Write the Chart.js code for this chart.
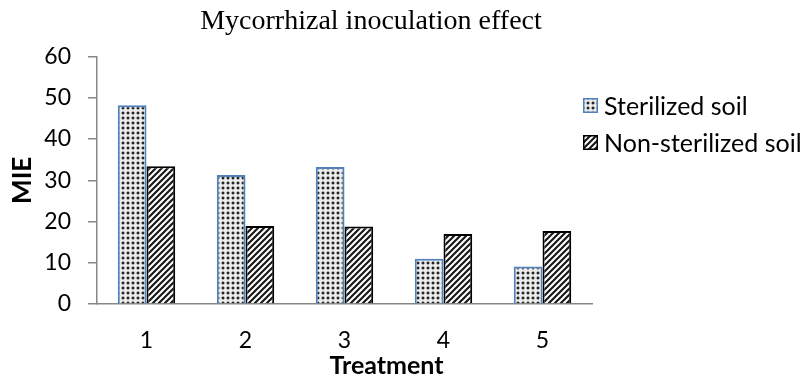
<!DOCTYPE html>
<html>
<head>
<meta charset="utf-8">
<script src="https://cdn.jsdelivr.net/npm/chart.js@4/dist/chart.umd.min.js"></script>
<style>
html,body{margin:0;padding:0;background:#fff;}
#wrap{width:802px;height:378px;position:relative;}
</style>
</head>
<body>
<div id="wrap"><canvas id="c" width="802" height="378"></canvas></div>
<script>
const chartTitle = 'Mycorrhizal inoculation effect';
const categories = ['1', '2', '3', '4', '5'];
const seriesNames = ['Sterilized soil', 'Non-sterilized soil'];
const sterilized = [48.2, 31.3, 33.2, 11.0, 9.1];
const nonSterilized = [33.4, 18.9, 18.8, 17.0, 17.7];
const yTicks = [0, 10, 20, 30, 40, 50, 60];
const xAxisTitle = 'Treatment';
const yAxisTitle = 'MIE';

const SANS = 'Lato, "Open Sans", sans-serif';

function dotPattern() {
  const s = 5;
  const c = document.createElement('canvas');
  c.width = s; c.height = s;
  const g = c.getContext('2d');
  g.fillStyle = '#ececec'; g.fillRect(0, 0, s, s);
  g.fillStyle = '#a8a8a8'; g.fillRect(1, 2, 4, 2); g.fillRect(2, 1, 2, 4);
  g.fillStyle = '#262626'; g.fillRect(2, 2, 2, 2);
  return g.createPattern(c, 'repeat');
}
function hatchPattern() {
  const s = 6;
  const c = document.createElement('canvas');
  c.width = s; c.height = s;
  const g = c.getContext('2d');
  g.fillStyle = '#ffffff'; g.fillRect(0, 0, s, s);
  g.strokeStyle = '#1a1a1a'; g.lineWidth = 2.2;
  g.beginPath();
  g.moveTo(-s, s * 2); g.lineTo(s * 2, -s);
  g.moveTo(-s, s); g.lineTo(s, -s);
  g.moveTo(0, s * 2); g.lineTo(s * 2, 0);
  g.stroke();
  return g.createPattern(c, 'repeat');
}

const customLegendAndTitle = {
  id: 'customLegendAndTitle',
  afterDraw(chart) {
    const ctx = chart.ctx;
    ctx.save();
    // legend
    const lx = 583, ly = [98, 135], bs = 15;
    ctx.font = '25px ' + SANS;
    ctx.textBaseline = 'middle';
    ctx.textAlign = 'left';
    chart.data.datasets.forEach((ds, i) => {
      ctx.fillStyle = ds.backgroundColor;
      ctx.fillRect(lx, ly[i], bs, bs);
      ctx.strokeStyle = ds.borderColor;
      ctx.lineWidth = 1.5;
      ctx.strokeRect(lx + 0.75, ly[i] + 0.75, bs - 1.5, bs - 1.5);
      ctx.fillStyle = '#000';
      ctx.fillText(ds.label, lx + 21, ly[i] + bs / 2 + 1);
    });
    // x axis title
    const xs = chart.scales.x;
    ctx.font = 'bold 25px ' + SANS;
    ctx.textAlign = 'center';
    ctx.fillText(xAxisTitle, (xs.left + xs.right) / 2 + 42, 366);
    ctx.restore();
  }
};

new Chart(document.getElementById('c'), {
  type: 'bar',
  data: {
    labels: categories,
    datasets: [
      {
        label: seriesNames[0],
        data: sterilized,
        backgroundColor: dotPattern(),
        borderColor: '#4f81bd',
        borderWidth: 2,
        categoryPercentage: 0.58,
        barPercentage: 1.0
      },
      {
        label: seriesNames[1],
        data: nonSterilized,
        backgroundColor: hatchPattern(),
        borderColor: '#000000',
        borderWidth: 2,
        categoryPercentage: 0.58,
        barPercentage: 1.0
      }
    ]
  },
  options: {
    responsive: false,
    animation: false,
    devicePixelRatio: 1,
    layout: { padding: { left: 0, right: 60, top: 0, bottom: 0 } },
    plugins: {
      legend: { display: false },
      tooltip: { enabled: false },
      title: {
        display: true,
        text: chartTitle,
        fullSize: true,
        color: '#000',
        font: { family: '"Liberation Serif", "Times New Roman", serif', size: 28, weight: 'normal' },
        padding: { top: 5, bottom: 18 }
      }
    },
    scales: {
      x: {
        type: 'category',
        grid: { display: false },
        border: { display: true, color: '#878787', width: 1.5 },
        ticks: { color: '#000', font: { family: SANS, size: 23 }, padding: 15 },
        afterFit(s) { s.height = 74; }
      },
      y: {
        min: 0, max: 60,
        afterBuildTicks(s) { s.ticks = yTicks.map(v => ({ value: v })); },
        grid: { drawOnChartArea: false, drawTicks: true, tickLength: 9, color: '#878787', lineWidth: 1.5 },
        border: { display: true, color: '#878787', width: 1.5 },
        ticks: { color: '#000', font: { family: SANS, size: 23 }, padding: 17 },
        title: { display: true, text: yAxisTitle, color: '#000', font: { family: SANS, size: 26, weight: 'bold' }, padding: { top: 7, bottom: 0 } },
        afterFit(s) { s.width = 97; }
      },
      yR: {
        position: 'right',
        display: true,
        grid: { display: false },
        border: { display: false },
        ticks: { display: false },
        afterFit(s) { s.width = 150; }
      }
    }
  },
  plugins: [customLegendAndTitle]
});
</script>
</body>
</html>
